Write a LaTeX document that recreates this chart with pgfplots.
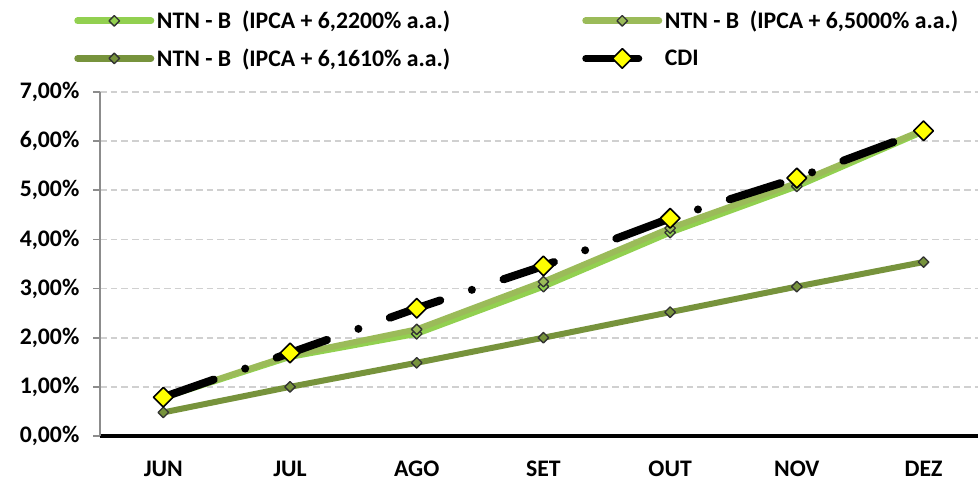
\documentclass[border=0pt]{standalone}
\usepackage{pgfplots}
\pgfplotsset{compat=1.18}
\usepackage{fontspec}
\setmainfont{Carlito}
\definecolor{gA}{HTML}{92D050}
\definecolor{gB}{HTML}{9BBB59}
\definecolor{gC}{HTML}{77933C}
\definecolor{gridc}{HTML}{D0D0D0}
\definecolor{axc}{HTML}{8C8C8C}
\definecolor{yel}{HTML}{FFFF00}
\newcommand{\ff}{\fontsize{17.8}{20}\selectfont\bfseries}
\begin{document}
\begin{tikzpicture}
\begin{axis}[
  at={(75pt,34.5pt)}, anchor=south west,
  scale only axis, width=658.5pt, height=258pt,
  xmin=-0.5, xmax=6.43, ymin=0, ymax=7,
  clip=false,
  axis x line*=bottom, axis y line*=left,
  x axis line style={-, black, line width=2.6pt},
  y axis line style={-, axc, line width=1.4pt},
  xtick={0,...,6},
  xticklabels={JUN,JUL,AGO,SET,OUT,NOV,DEZ},
  major x tick style={draw=none},
  extra x ticks={-0.5,0.5,1.5,2.5,3.5,4.5,5.5},
  extra x tick labels={},
  extra x tick style={major tick length=6pt, tick style={black, line width=2.6pt}, grid=none},
  ytick={0,...,7},
  yticklabels={{0,00\%},{1,00\%},{2,00\%},{3,00\%},{4,00\%},{5,00\%},{6,00\%},{7,00\%}},
  major y tick style={axc, line width=1.2pt},
  tick align=outside,
  major tick length=5pt,
  ymajorgrids,
  major grid style={gridc, line width=1.2pt, dash pattern=on 5pt off 3pt},
  ticklabel style={font=\ff},
  xticklabel style={yshift=-10pt},
  yticklabel style={xshift=-7pt},
  legend columns=2,
  legend cell align=left,
  legend style={at={(-0.0296,1.244)}, anchor=north west, draw=none, fill=none,
    font=\ff, inner sep=0pt, row sep=9.5pt,
    /tikz/every even column/.append style={column sep=97pt}},
  legend image code/.code={
    \draw[#1, mark=none, line cap=round, line width=5pt] (0pt,0pt) -- (55pt,0pt);
    \draw[#1, only marks] plot coordinates {(27.5pt,0pt)};
  },
]
\addplot[gA, line width=4.5pt, line join=round, mark=square*, mark size=2.8pt,
  mark options={rotate=45, fill=gA, draw=black!80, line width=1pt, solid}]
  coordinates {(0,0.78) (1,1.61) (2,2.08) (3,3.04) (4,4.14) (5,5.08) (6,6.20)};
\addlegendentry{NTN - B\ \ (IPCA + 6,2200\% a.a.)}
\addplot[gB, line width=4.5pt, line join=round, mark=square*, mark size=2.8pt,
  mark options={rotate=45, fill=gB, draw=black!80, line width=1pt, solid}]
  coordinates {(0,0.79) (1,1.64) (2,2.17) (3,3.14) (4,4.23) (5,5.15) (6,6.23)};
\addlegendentry{NTN - B\ \ (IPCA + 6,5000\% a.a.)}
\addplot[gC, line width=4.5pt, line join=round, mark=square*, mark size=2.8pt,
  mark options={rotate=45, fill=gC, draw=black!80, line width=1pt, solid}]
  coordinates {(0,0.48) (1,1.00) (2,1.49) (3,2.00) (4,2.52) (5,3.04) (6,3.54)};
\addlegendentry{NTN - B\ \ (IPCA + 6,1610\% a.a.)}
\addplot[black, line width=6pt, line cap=round, line join=round,
  dash pattern=on 40pt off 25pt on 0pt off 25pt,
  mark=square*, mark size=5.2pt,
  mark options={rotate=45, fill=yel, draw=black, line width=1.2pt, solid}]
  coordinates {(0,0.79) (1,1.69) (2,2.60) (3,3.46) (4,4.43) (5,5.25) (6,6.21)};
\addlegendentry{CDI}
\end{axis}
\pgfresetboundingbox
\path (0,0) rectangle (733.5pt,361.5pt);
\end{tikzpicture}
\end{document}
